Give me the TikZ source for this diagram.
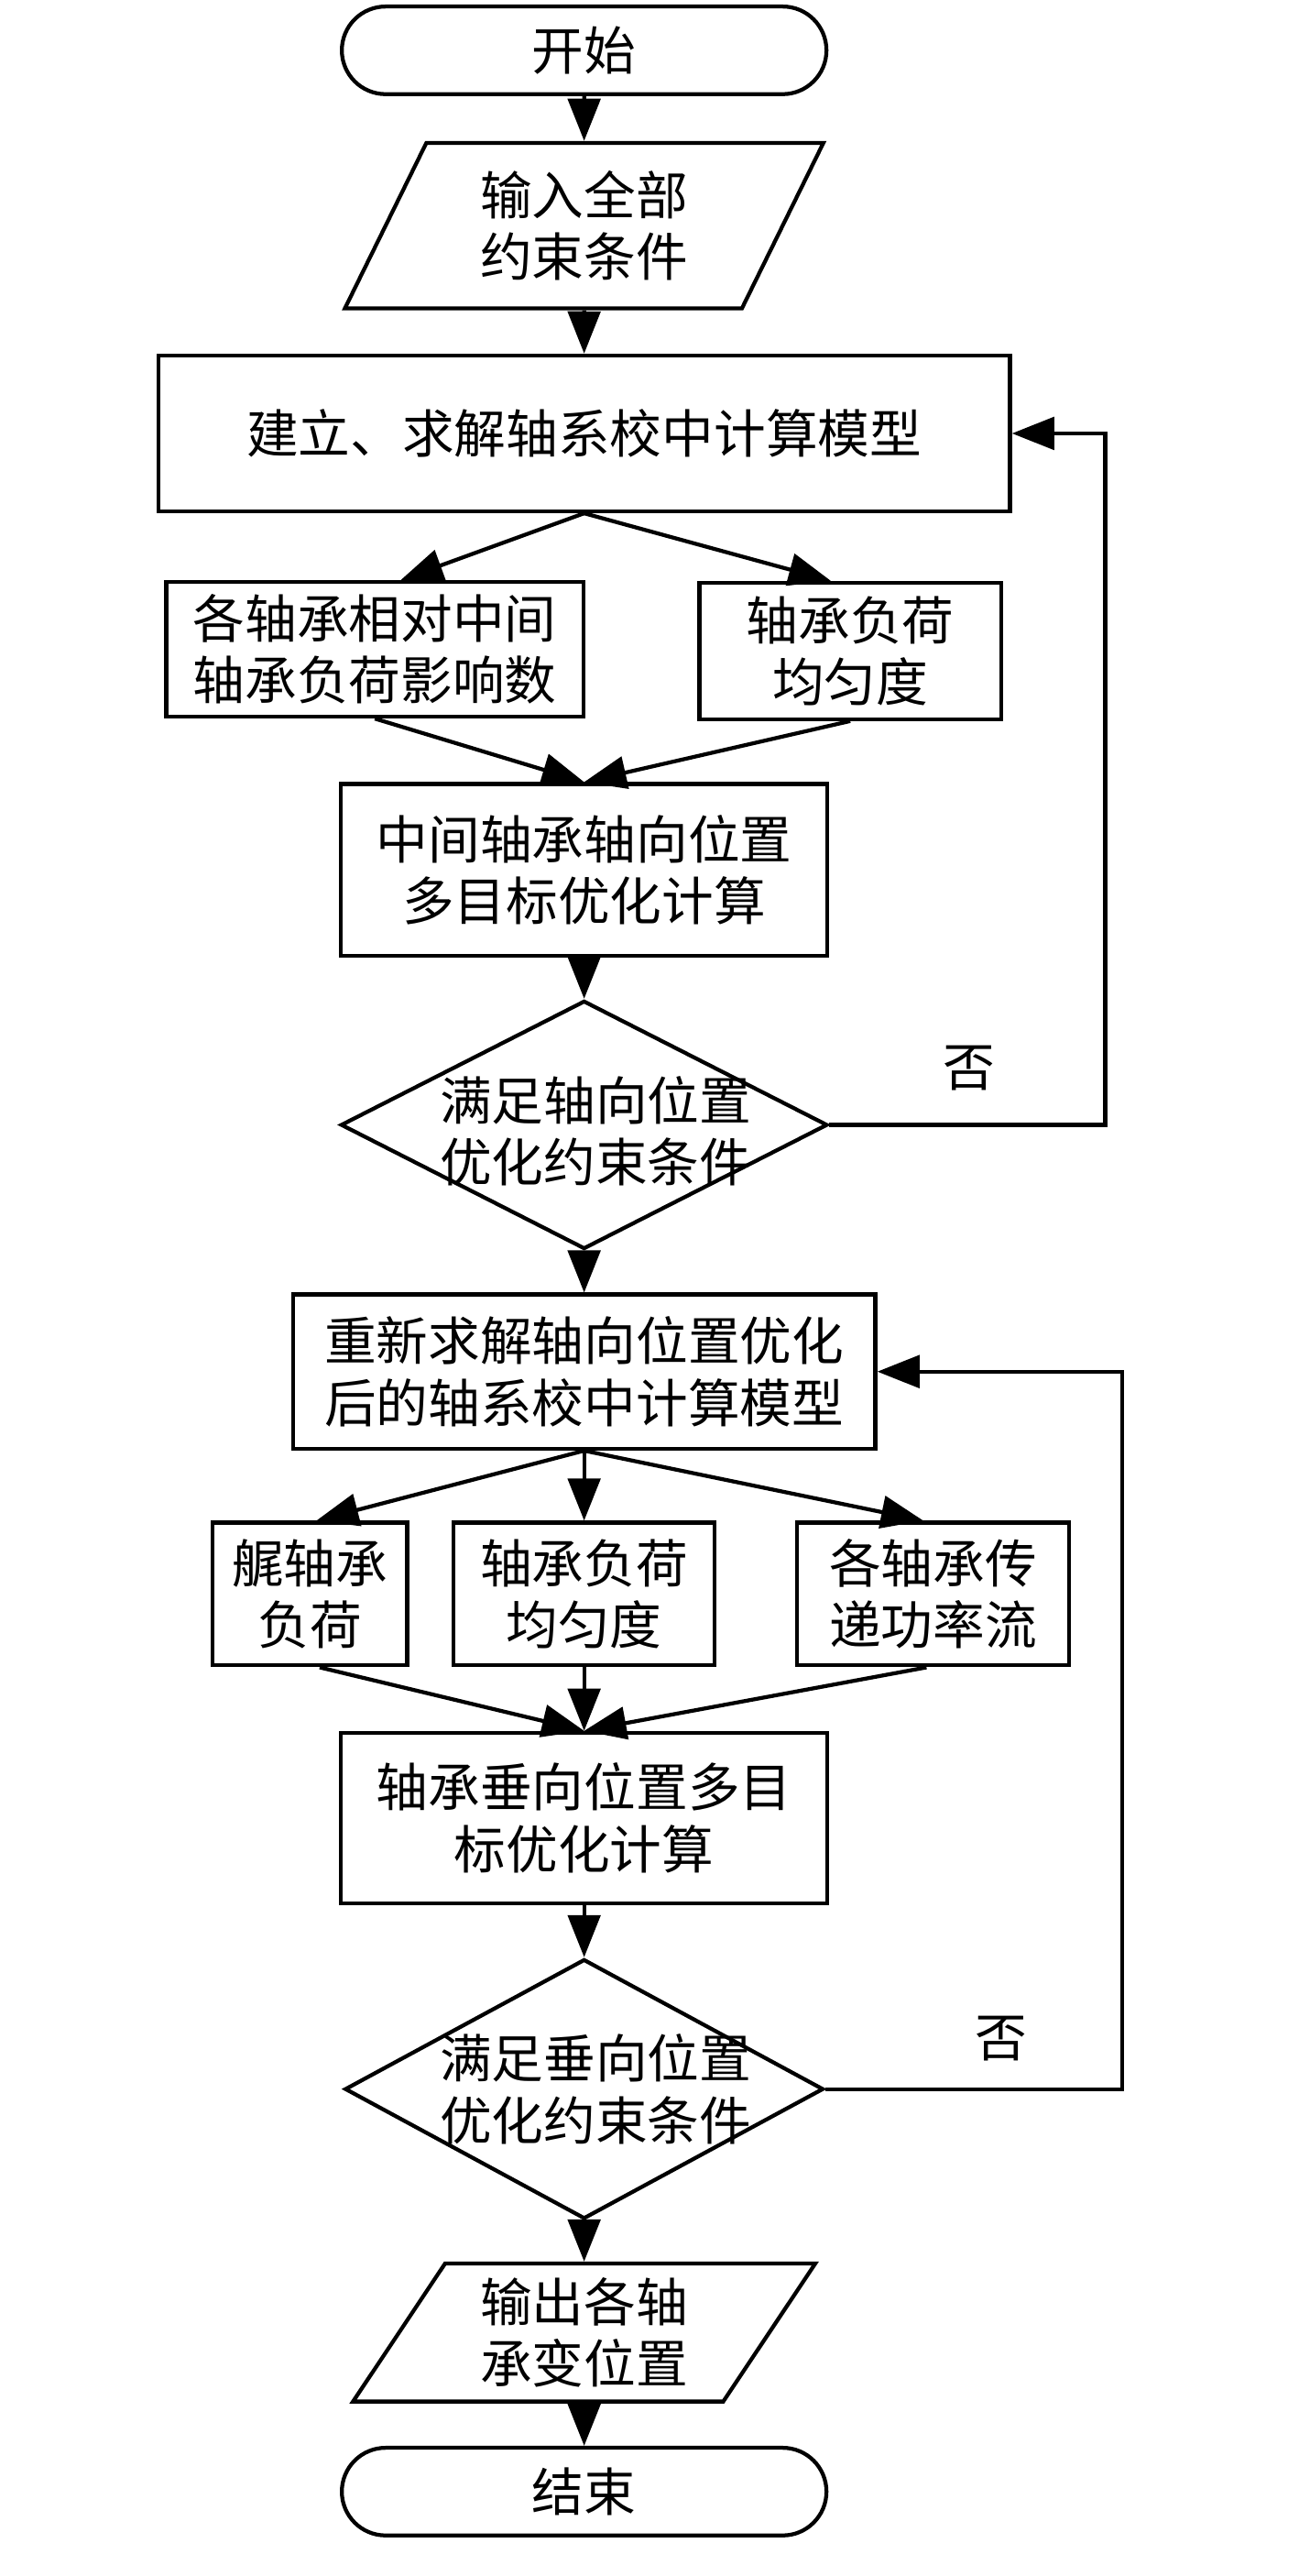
\documentclass[tikz,border=0pt]{standalone}
\usepackage{fontspec}
\newfontfamily\cjk{Noto Sans CJK SC}
\usetikzlibrary{shapes.geometric}
\usetikzlibrary{shapes.misc}
\usetikzlibrary{arrows.meta}
\tikzset{
	every node/.style={font=\cjk\fontsize{16pt}{19pt}\selectfont, align=center},
	% process box, sizes given per node
	proc/.style={draw, line width=1.2pt, inner sep=0pt},
	% start / end
	term/.style={draw, line width=1.2pt, rounded rectangle, minimum width=156pt, minimum height=27pt},
	% input / output
	io/.style={draw, line width=1.2pt, trapezium, trapezium stretches=true, inner sep=0pt},
	% decision, text is put on top of it
	decide/.style={draw, line width=1.2pt, diamond, inner sep=0pt},
	conn/.style={line width=1.2pt, -{Triangle[length=13pt,width=10pt]}}
}
\begin{document}
\begin{tikzpicture}[x=0.5pt, y=-0.5pt]
	% page 800 x 1587
	\useasboundingbox (0,0) rectangle (800,1587);
	
	% axial position
	\node[term] (start) at (360,31) {开始};
	\node[io, trapezium left angle=64, trapezium right angle=116, minimum width=147.5pt, minimum height=51pt] (input) at (360,139) {输入全部\\约束条件};
	\node[proc, minimum width=262.5pt, minimum height=48pt] (model) at (360,267) {建立、求解轴系校中计算模型};
	\node[proc, minimum width=128.5pt, minimum height=41.5pt] (infl) at (231,400) {各轴承相对中间\\轴承负荷影响数};
	\node[proc, minimum width=93pt, minimum height=42pt] (unif) at (524,401) {轴承负荷\\均匀度};
	\node[proc, minimum width=150pt, minimum height=53pt] (axopt) at (360,536) {中间轴承轴向位置\\多目标优化计算};
	\node[decide, minimum width=150pt, minimum height=76.5pt] (chk1) at (360,693) {};
	\node (chk1t) at (367,697) {满足轴向位置\\优化约束条件};
	\node (no1) at (597,658) {否};
	
	% vertical position
	\node[proc, minimum width=179.5pt, minimum height=47.5pt] (model2) at (360,845) {重新求解轴向位置优化\\后的轴系校中计算模型};
	\node[proc, minimum width=60pt, minimum height=44pt] (stern) at (191,982) {艉轴承\\负荷};
	\node[proc, minimum width=80.5pt, minimum height=44pt] (unif2) at (360,982) {轴承负荷\\均匀度};
	\node[proc, minimum width=84pt, minimum height=44pt] (power) at (575,982) {各轴承传\\递功率流};
	\node[proc, minimum width=150pt, minimum height=52.5pt] (vtopt) at (360,1120) {轴承垂向位置多目\\标优化计算};
	\node[decide, minimum width=147.5pt, minimum height=80pt] (chk2) at (360,1287) {};
	\node (chk2t) at (367,1287) {满足垂向位置\\优化约束条件};
	\node (no2) at (617,1256) {否};
	\node[io, trapezium left angle=58, trapezium right angle=122, minimum width=142.5pt, minimum height=42.5pt] (output) at (360,1437) {输出各轴\\承变位置};
	\node[term] (stop) at (360,1535) {结束};
	
	% arrows
	\draw[conn] (start) -- (input);
	\draw[conn] (input) -- (model);
	\draw[conn] (model.south) -- ([xshift=8pt]infl.north);
	\draw[conn] (model.south) -- ([xshift=-6pt]unif.north);
	\draw[conn] (infl.south) -- (axopt.north);
	\draw[conn] (unif.south) -- (axopt.north);
	\draw[conn] (axopt) -- (chk1);
	\draw[conn] (chk1.east) -- ++(170,0) |- (model.east);
	\draw[conn] (chk1) -- (model2);
	\draw[conn] (model2.south) -- ([xshift=2pt]stern.north);
	\draw[conn] (model2.south) -- (unif2.north);
	\draw[conn] (model2.south) -- ([xshift=-3pt]power.north);
	\draw[conn] ([xshift=3pt]stern.south) -- (vtopt.north);
	\draw[conn] (unif2.south) -- (vtopt.north);
	\draw[conn] ([xshift=-2pt]power.south) -- (vtopt.north);
	\draw[conn] (vtopt) -- (chk2);
	\draw[conn] (chk2.east) -- ++(183,0) |- (model2.east);
	\draw[conn] (chk2) -- (output);
	\draw[conn] (output) -- (stop);
\end{tikzpicture}
\end{document}
